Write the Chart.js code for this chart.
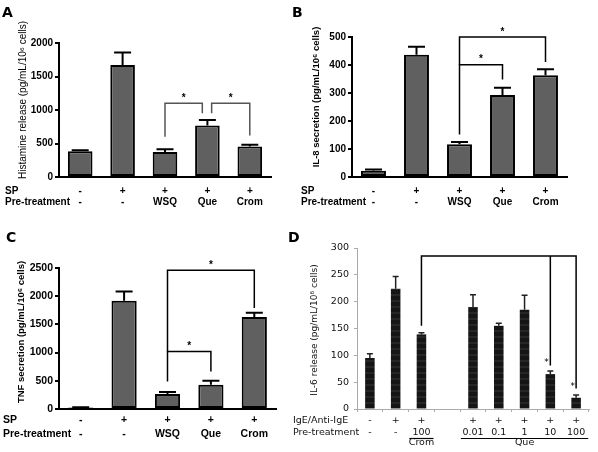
<!DOCTYPE html>
<html>
<head>
<meta charset="utf-8">
<script src="https://cdn.jsdelivr.net/npm/chart.js@4/dist/chart.umd.min.js"></script>
<style>
  body { margin: 0; background: #fff; }
  #wrap { position: relative; width: 598px; height: 452px; overflow: hidden; }
  canvas { position: absolute; }
  .tag { position: absolute; font: bold 14px "DejaVu Sans", sans-serif; color: #000; line-height: 1; }
</style>
</head>
<body>
<div id="wrap">
  <canvas id="chartA" style="left:0;top:0" width="299" height="225"></canvas>
  <canvas id="chartB" style="left:299px;top:0" width="299" height="225"></canvas>
  <canvas id="chartC" style="left:0;top:225px" width="280" height="227"></canvas>
  <canvas id="chartD" style="left:280px;top:225px" width="318" height="227"></canvas>
  <div class="tag" style="left:2px;top:5px">A</div>
  <div class="tag" style="left:292px;top:5px">B</div>
  <div class="tag" style="left:6px;top:230px">C</div>
  <div class="tag" style="left:288px;top:230px">D</div>
</div>
<script>
// SP panels (A, B, C)
const spHeaders = ['SP', 'Pre-treatment'];
const spRow = ['-', '+', '+', '+', '+'];
const spPreRow = ['-', '-', 'WSQ', 'Que', 'Crom'];

const histamine = [385, 1670, 375, 770, 455];
const histamineSem = [15, 190, 40, 80, 25];

const il8 = [22, 437, 117, 293, 363];
const il8Sem = [5, 28, 8, 26, 22];

const tnf = [25, 1920, 265, 430, 1630];
const tnfSem = [5, 165, 35, 73, 76];

// IgE panel (D)
const igeHeaders = ['IgE/Anti-IgE', 'Pre-treatment'];
const igeRow = ['-', '+', '+', '', '+', '+', '+', '+', '+'];
const igePreRow = ['-', '-', '100', '', '0.01', '0.1', '1', '10', '100'];
const il6 = [95, 224, 139, null, 190, 155, 185, 65, 21];
const il6Sem = [8, 23, 3, null, 23, 5, 27, 6, 5];
const il6Groups = [[2, 2, 'Crom'], [4, 8, 'Que']];

// significance brackets: [from, to, top, left leg end, right leg end, from shift, to shift]
const histamineBrackets = [[2, 3, 1100, 600, 950, 0, -0.12], [3, 4, 1100, 950, 620, 0.1, 0]];
const il8Brackets = [[2, 3, 401, 152, 348], [2, 4, 500, 401, 411]];
const tnfBrackets = [[2, 3, 1020, 486, 663], [2, 4, 2460, 1020, 1790]];
const il6Brackets = [[2, 8, 285, 155, 38]];
const il6Legs = [[7, 285, 81]];
const il6Stars = [[7, 91, -0.15], [8, 46, -0.13]];

const SANS = '"Liberation Sans", Arial, sans-serif';
const DEJA = '"DejaVu Sans", sans-serif';

const annotate = {
    id: 'annotate',
    afterDatasetsDraw(chart, args, o) {
        const ctx = chart.ctx;
        const xs = chart.scales.x, ys = chart.scales.y;
        const area = chart.chartArea;
        const cw = xs.getPixelForValue(1) - xs.getPixelForValue(0);
        const px = (i, shift) => xs.getPixelForValue(i) + (shift || 0) * cw;
        const vals = chart.data.datasets[0].data;
        ctx.save();

        // error bars (upper only)
        ctx.strokeStyle = o.errColor;
        ctx.lineWidth = o.errWidth;
        chart.getDatasetMeta(0).data.forEach((bar, i) => {
            if (vals[i] == null || !o.sem[i]) return;
            const top = ys.getPixelForValue(vals[i] + o.sem[i]);
            ctx.beginPath();
            ctx.moveTo(bar.x, bar.y);
            ctx.lineTo(bar.x, top);
            ctx.moveTo(bar.x - o.cap / 2, top);
            ctx.lineTo(bar.x + o.cap / 2, top);
            ctx.stroke();
        });

        // brackets
        ctx.strokeStyle = o.bracketColor;
        ctx.lineWidth = o.bracketWidth;
        ctx.fillStyle = '#000';
        ctx.font = 'bold 10px ' + SANS;
        ctx.textAlign = 'center';
        ctx.textBaseline = 'alphabetic';
        (o.brackets || []).forEach(b => {
            const x1 = px(b[0], b[5]), x2 = px(b[1], b[6]);
            const top = ys.getPixelForValue(b[2]);
            ctx.beginPath();
            ctx.moveTo(x1, ys.getPixelForValue(b[3]));
            ctx.lineTo(x1, top);
            ctx.lineTo(x2, top);
            ctx.lineTo(x2, ys.getPixelForValue(b[4]));
            ctx.stroke();
            if (o.bracketStar) ctx.fillText('*', (x1 + x2) / 2, top - 2.5);
        });
        (o.legs || []).forEach(l => {
            ctx.beginPath();
            ctx.moveTo(px(l[0]), ys.getPixelForValue(l[1]));
            ctx.lineTo(px(l[0]), ys.getPixelForValue(l[2]));
            ctx.stroke();
        });
        ctx.font = '9px ' + DEJA;
        (o.stars || []).forEach(s => {
            ctx.fillText('*', px(s[0], s[2]), ys.getPixelForValue(s[1]) + 5);
        });

        // category rows and their headers under the x axis
        ctx.font = o.rowFont;
        ctx.fillStyle = o.textColor;
        ctx.textBaseline = 'middle';
        o.headers.forEach((h, r) => {
            const y = area.bottom + o.rowTop + o.rowHeight * (r + 0.5);
            ctx.textAlign = 'left';
            ctx.fillText(h, o.headerX, y);
            ctx.textAlign = 'center';
            chart.data.labels.forEach((lab, i) => {
                if (lab[r]) ctx.fillText(lab[r], px(i), y);
            });
        });

        // group underlines (panel D)
        ctx.textAlign = 'center';
        ctx.lineWidth = 1.2;
        ctx.strokeStyle = '#000';
        (o.groups || []).forEach(g => {
            const x1 = px(g[0], -0.47), x2 = px(g[1], 0.47);
            const ly = Math.round(area.bottom + o.groupLine) + 0.5;
            ctx.beginPath();
            ctx.moveTo(x1, ly);
            ctx.lineTo(x2, ly);
            ctx.stroke();
            ctx.fillText(g[2], (x1 + x2) / 2, area.bottom + o.groupText);
        });

        // y axis title
        ctx.translate(o.titleX, o.titleY);
        ctx.rotate(-Math.PI / 2);
        ctx.font = o.titleFont;
        ctx.fillText(o.title, 0, 0);
        ctx.restore();
    },
};

function makePanel(cfg) {
    const cv = document.getElementById(cfg.id);
    const W = cv.width, H = cv.height;
    const [left, top, right, bottom] = cfg.area;
    const light = cfg.light;
    const axisColor = light ? '#aaa' : '#000';
    return new Chart(cv, {
        type: 'bar',
        data: {
            labels: cfg.rows[0].map((v, i) => cfg.rows.map(r => r[i])),
            datasets: [{
                data: cfg.values,
                backgroundColor: cfg.fill,
                borderColor: '#000',
                borderWidth: cfg.border,
                borderSkipped: false,
                barPercentage: cfg.barPct,
                categoryPercentage: 1,
            }],
        },
        options: {
            responsive: false,
            animation: false,
            devicePixelRatio: 1,
            layout: { padding: { left: 0, top: top, right: W - right, bottom: 0 } },
            plugins: {
                legend: { display: false },
                tooltip: { enabled: false },
                annotate: cfg.notes,
            },
            scales: {
                x: {
                    offset: true,
                    grid: light
                        ? { display: true, drawOnChartArea: false, tickLength: 3, color: axisColor }
                        : { display: false },
                    border: { display: true, color: axisColor, width: light ? 1 : 2 },
                    ticks: { display: false },
                    afterFit: s => { s.height = H - bottom; },
                },
                y: {
                    min: 0,
                    max: cfg.max,
                    ticks: {
                        stepSize: cfg.step,
                        padding: cfg.tickPad,
                        color: cfg.notes.textColor,
                        font: cfg.tickFont,
                        callback: v => String(v),
                    },
                    grid: { drawOnChartArea: false, tickLength: light ? 3 : 4, color: axisColor, lineWidth: light ? 1 : 2 },
                    border: { display: true, color: axisColor, width: light ? 1 : 2 },
                    afterFit: s => { s.width = left; },
                },
            },
        },
        plugins: [annotate],
    });
}

const boldTicks = { family: SANS, size: 10, weight: 'bold' };

makePanel({
    id: 'chartA', area: [59, 43, 271, 177], max: 2000, step: 500,
    values: histamine, rows: [spRow, spPreRow], fill: '#606060', border: 2, barPct: 0.58,
    tickPad: 2, tickFont: boldTicks,
    notes: {
        sem: histamineSem, cap: 17, errColor: '#000', errWidth: 2,
        brackets: histamineBrackets, bracketColor: '#555', bracketWidth: 1.5, bracketStar: true,
        headers: spHeaders, headerX: 5, rowTop: 8, rowHeight: 11.6,
        rowFont: 'bold 10px ' + SANS, textColor: '#000',
        title: 'Histamine release (pg/mL/10\u2076 cells)', titleFont: '10px ' + SANS,
        titleX: 23, titleY: 100,
    },
});

makePanel({
    id: 'chartB', area: [53, 37, 268, 177], max: 500, step: 100,
    values: il8, rows: [spRow, spPreRow], fill: '#606060', border: 2, barPct: 0.58,
    tickPad: 2, tickFont: boldTicks,
    notes: {
        sem: il8Sem, cap: 17, errColor: '#000', errWidth: 2,
        brackets: il8Brackets, bracketColor: '#000', bracketWidth: 1.5, bracketStar: true,
        headers: spHeaders, headerX: 2, rowTop: 8, rowHeight: 11.6,
        rowFont: 'bold 10px ' + SANS, textColor: '#000',
        title: 'IL-8 secretion (pg/mL/10\u2076 cells)', titleFont: 'bold 9.5px ' + SANS,
        titleX: 17, titleY: 97,
    },
});

makePanel({
    id: 'chartC', area: [59, 43, 276, 184], max: 2500, step: 500,
    values: tnf, rows: [spRow, spPreRow], fill: '#606060', border: 2, barPct: 0.58,
    tickPad: 2, tickFont: { family: SANS, size: 10.5, weight: 'bold' },
    notes: {
        sem: tnfSem, cap: 17, errColor: '#000', errWidth: 2,
        brackets: tnfBrackets, bracketColor: '#000', bracketWidth: 1.5, bracketStar: true,
        headers: spHeaders, headerX: 3, rowTop: 4, rowHeight: 14,
        rowFont: 'bold 10.5px ' + SANS, textColor: '#000',
        title: 'TNF secretion (pg/mL/10\u2076 cells)', titleFont: 'bold 9.5px ' + SANS,
        titleX: 21, titleY: 107,
    },
});

function stripes() {
    const c = document.createElement('canvas');
    c.width = 4; c.height = 6;
    const g = c.getContext('2d');
    g.fillStyle = '#151515';
    g.fillRect(0, 0, 4, 6);
    g.fillStyle = '#262626';
    g.fillRect(0, 3, 4, 2);
    return g.createPattern(c, 'repeat');
}

makePanel({
    id: 'chartD', area: [77, 23, 309, 184], max: 300, step: 50, light: true,
    values: il6, rows: [igeRow, igePreRow], fill: stripes(), border: 0, barPct: 0.37,
    tickPad: 5, tickFont: { family: DEJA, size: 9.5 },
    notes: {
        sem: il6Sem, cap: 6, errColor: '#222', errWidth: 1.5,
        brackets: il6Brackets, legs: il6Legs, stars: il6Stars,
        bracketColor: '#000', bracketWidth: 1.5, bracketStar: false,
        headers: igeHeaders, headerX: 13, rowTop: 6, rowHeight: 12,
        rowFont: '9.5px ' + DEJA, textColor: '#111',
        groups: il6Groups, groupLine: 28.5, groupText: 34,
        title: 'IL-6 release (pg/mL/10\u2076 cells)', titleFont: '9px ' + DEJA,
        titleX: 35, titleY: 105,
    },
});
</script>
</body>
</html>
